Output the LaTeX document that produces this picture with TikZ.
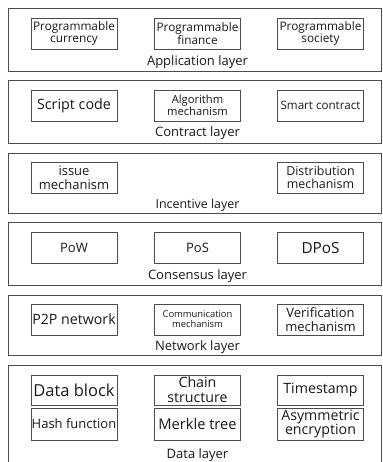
\documentclass[tikz,border=0pt]{standalone}
\usepackage{fontspec}
\setmainfont{Open Sans}
\newcommand{\fsz}[1]{\fontsize{#1}{\fpeval{#1*1.05}}\selectfont}
\begin{document}
\begin{tikzpicture}[x=1pt,y=-1pt,
  layerbox/.style={draw=black!70, line width=0.9pt},
  itembox/.style={draw=black!70, line width=0.9pt, minimum width=86pt, minimum height=31pt, inner sep=0pt, align=center, text=black!90},
  lbl/.style={text=black!90, inner sep=0pt}]
\useasboundingbox (0,0) rectangle (382,462);
% layers
\draw[layerbox] (8,8) rectangle (381,71);
\draw[layerbox] (8,80) rectangle (381,143);
\draw[layerbox] (8,153) rectangle (381,213);
\draw[layerbox] (8,222) rectangle (381,285);
\draw[layerbox] (8,295) rectangle (381,355);
\draw[layerbox] (8,365) rectangle (381,470);
% application
\node[itembox, font=\fsz{11.8}] (a1) at (74,33.5) {Programmable\\currency};
\node[itembox, font=\fsz{11.8}] (a2) at (197.5,33.5) {Programmable\\finance};
\node[itembox, font=\fsz{11.8}] (a3) at (320.5,33.5) {Programmable\\society};
\node[lbl, font=\fsz{13}] (al) at (197.5,62) {Application layer};
% contract
\node[itembox, font=\fsz{14.3}] (c1) at (74,105.5) {Script code};
\node[itembox, font=\fsz{11.2}] (c2) at (197.5,105.5) {Algorithm\\mechanism};
\node[itembox, font=\fsz{11.6}] (c3) at (320.5,105.5) {Smart contract};
\node[lbl, font=\fsz{13}] (cl) at (197.5,133) {Contract layer};
% incentive
\node[itembox, font=\fsz{13}] (i1) at (74,177.5) {issue\\mechanism};
\node[itembox, font=\fsz{12.4}] (i3) at (320.5,177.5) {Distribution\\mechanism};
\node[lbl, font=\fsz{12.4}] (il) at (197.5,205) {Incentive layer};
% consensus
\node[itembox, font=\fsz{13}] (s1) at (74,248) {PoW};
\node[itembox, font=\fsz{13}] (s2) at (197.5,248) {PoS};
\node[itembox, font=\fsz{15.3}] (s3) at (320.5,248) {DPoS};
\node[lbl, font=\fsz{13}] (sl) at (197.5,276) {Consensus layer};
% network
\node[itembox, font=\fsz{14.2}] (n1) at (74,319.5) {P2P network};
\node[itembox, font=\fsz{9.4}] (n2) at (197.5,319.5) {Communication\\mechanism};
\node[itembox, font=\fsz{13}] (n3) at (320.5,319.5) {Verification\\mechanism};
\node[lbl, font=\fsz{13}] (nl) at (197.5,347) {Network layer};
% data
\node[itembox, minimum height=30pt, font=\fsz{16.5}] (d1) at (74,390) {Data block};
\node[itembox, minimum height=30pt, font=\fsz{14.2}] (d2) at (197.5,390) {Chain\\structure};
\node[itembox, minimum height=30pt, font=\fsz{14.2}] (d3) at (320.5,390) {Timestamp};
\node[itembox, minimum height=32pt, font=\fsz{13}] (d4) at (74,424) {Hash function};
\node[itembox, minimum height=32pt, font=\fsz{14.7}] (d5) at (197.5,424) {Merkle tree};
\node[itembox, minimum height=32pt, font=\fsz{14.2}] (d6) at (320.5,424) {Asymmetric\\encryption};
\node[lbl, font=\fsz{13}] (dl) at (197.5,455) {Data layer};
\end{tikzpicture}
\end{document}
